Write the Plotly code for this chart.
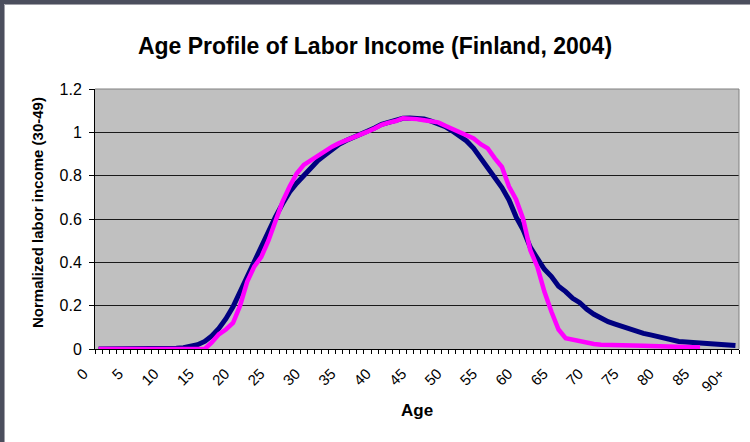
import plotly.graph_objects as go

# ---------------- data ----------------
ages = list(range(91))
tick_ages = list(range(0, 91, 5))
tick_labels = [str(a) for a in range(0, 90, 5)] + ["90+"]

labor_income_a = [
    0, 0, 0, 0, 0, 0, 0, 0, 0, 0,            # 0-9
    0, 0.003, 0.006, 0.012, 0.02, 0.035, 0.06, 0.095, 0.14, 0.195,   # 10-19
    0.265, 0.33, 0.40, 0.47, 0.54, 0.61, 0.67, 0.725, 0.765, 0.80,   # 20-29
    0.84, 0.87, 0.895, 0.92, 0.945, 0.962, 0.975, 0.99, 1.003, 1.02,  # 30-39
    1.037, 1.046, 1.053, 1.065, 1.066, 1.066, 1.062, 1.052, 1.04, 1.026,  # 40-49
    1.006, 0.984, 0.96, 0.926, 0.88, 0.837, 0.795, 0.745, 0.688, 0.61,  # 50-59
    0.55, 0.47, 0.418, 0.368, 0.334, 0.29, 0.265, 0.234, 0.214, 0.183,  # 60-69
    0.16, 0.14, 0.126, 0.115, 0.103, 0.094, 0.08, 0.072, 0.065, 0.057,  # 70-79
    0.048, 0.04, 0.035, 0.032, 0.03, 0.029, 0.028, 0.026, 0.023, 0.021,  # 80-89
    0.016,                                                             # 90+
]

labor_income_b = [
    0, 0, 0, 0, 0, 0, 0, 0, 0, 0,            # 0-9
    0, 0, 0, 0, 0, 0, 0.03, 0.068, 0.09, 0.12,   # 10-19
    0.2, 0.31, 0.38, 0.425, 0.5, 0.595, 0.68, 0.75, 0.81, 0.85,   # 20-29
    0.872, 0.895, 0.918, 0.934, 0.95, 0.962, 0.975, 0.99, 1.003, 1.018,  # 30-39
    1.035, 1.045, 1.052, 1.065, 1.065, 1.061, 1.056, 1.052, 1.046, 1.03,  # 40-49
    1.015, 1.003, 0.99, 0.972, 0.945, 0.926, 0.88, 0.84, 0.75, 0.69,  # 50-59
    0.6, 0.457, 0.38, 0.265, 0.172, 0.09, 0.05, 0.042, 0.035, 0.027,  # 60-69
    0.023, 0.02, 0.02, 0.018, 0.017, 0.016, 0.015, 0.015, 0.014, 0.012,  # 70-79
    0.011, 0.01, 0.01, 0.009, 0.008, 0.008, None, None, None, None,  # 80-89
    None,                                                              # 90+
]

# ---------------- layout geometry ----------------
W, H = 750, 442
L, R, T, B = 95, 11, 89, 93
PW, PH = W - L - R, H - T - B


def px(xp):
    return (xp - L) / PW


def py(yp):
    return (H - B - yp) / PH


FONT = "Arial, Liberation Sans, sans-serif"

fig = go.Figure()
fig.add_trace(go.Scatter(x=ages, y=labor_income_a, mode="lines",
                         line=dict(color="#000080", width=5), showlegend=False))
fig.add_trace(go.Scatter(x=ages, y=labor_income_b, mode="lines",
                         line=dict(color="#FF00FF", width=4.5), showlegend=False))

fig.update_layout(
    width=W, height=H,
    margin=dict(l=L, r=R, t=T, b=B),
    paper_bgcolor="white",
    plot_bgcolor="#C0C0C0",
    font=dict(family=FONT, color="black"),
    title=dict(text="<b>Age Profile of Labor Income (Finland, 2004)</b>",
               x=0.5, xanchor="center", y=1 - 46 / H, yanchor="middle",
               font=dict(size=23, family=FONT, color="black")),
    xaxis=dict(
        range=[-0.5, 90.5], tickmode="array", tickvals=tick_ages, ticktext=tick_labels,
        tickangle=-45, ticks="", showgrid=False, zeroline=False,
        showline=True, linecolor="black", linewidth=1,
        tickfont=dict(size=15, family=FONT), ticklabelstandoff=9, ticklabelshift=-15,
        minor=dict(tickmode="linear", tick0=0.5, dtick=1, ticks="outside",
                   ticklen=4, tickcolor="black", tickwidth=1, showgrid=False),
    ),
    yaxis=dict(
        range=[0, 1.2], dtick=0.2, tick0=0, ticks="outside", ticklen=5,
        tickcolor="black", showgrid=True, gridcolor="#1a1a1a", gridwidth=1,
        zeroline=False, showline=True, linecolor="black", linewidth=1,
        tickfont=dict(size=16, family=FONT), ticklabelstandoff=4,
    ),
    annotations=[
        dict(text="<b>Normalized labor income (30-49)</b>", textangle=-90,
             xref="paper", yref="paper", x=px(37), y=py(213), showarrow=False,
             xanchor="center", yanchor="middle", font=dict(size=15, family=FONT)),
        dict(text="<b>Age</b>", xref="paper", yref="paper", x=px(417), y=py(410),
             showarrow=False, xanchor="center", yanchor="middle",
             font=dict(size=17, family=FONT)),
    ],
    shapes=[
        # plot-area border (top & right)
        dict(type="line", xref="paper", yref="paper", x0=0, x1=1, y0=1, y1=1,
             line=dict(color="#808080", width=1), layer="above"),
        dict(type="line", xref="paper", yref="paper", x0=1, x1=1, y0=0, y1=1,
             line=dict(color="#808080", width=1), layer="above"),
        # window frame, left & top
        dict(type="rect", xref="paper", yref="paper", x0=px(0), x1=px(4),
             y0=py(H), y1=py(0), fillcolor="#4B4E5D", line=dict(width=0)),
        dict(type="rect", xref="paper", yref="paper", x0=px(0), x1=px(W),
             y0=py(4), y1=py(0), fillcolor="#4B4E5D", line=dict(width=0)),
        dict(type="line", xref="paper", yref="paper", x0=px(4.5), x1=px(4.5),
             y0=py(H), y1=py(4.5), line=dict(color="#A0A0A8", width=1)),
        dict(type="line", xref="paper", yref="paper", x0=px(4.5), x1=px(W),
             y0=py(4.5), y1=py(4.5), line=dict(color="#A0A0A8", width=1)),
    ],
)

fig.write_html("out.html", config={"displayModeBar": False},
               post_script="document.body.style.margin='0';document.body.style.padding='0';")
